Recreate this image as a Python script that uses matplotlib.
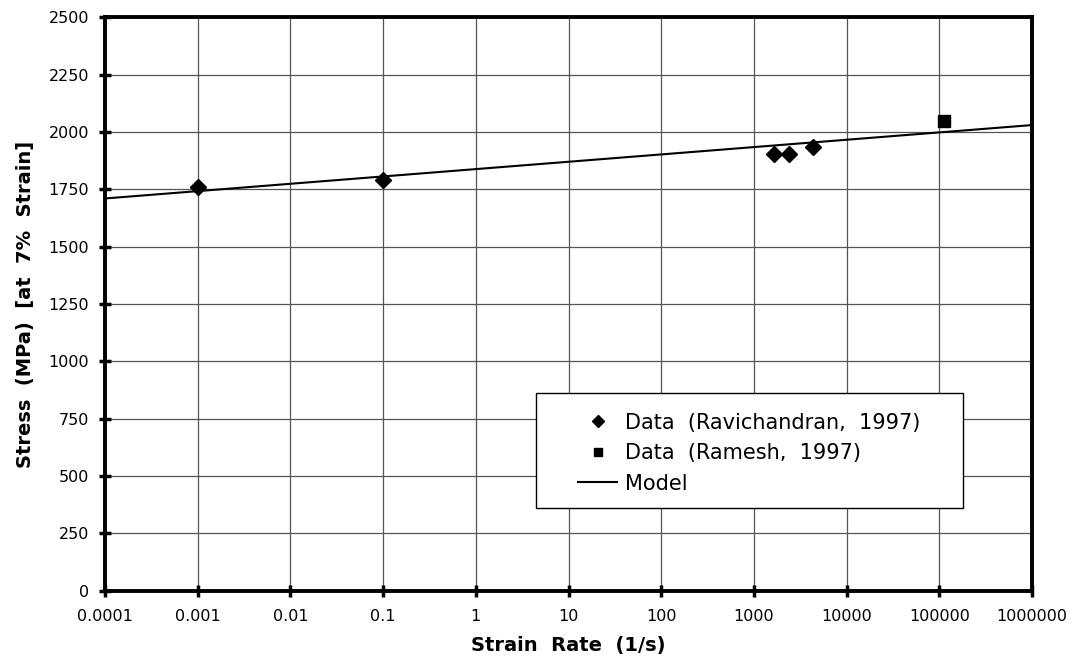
import numpy as np
import matplotlib
matplotlib.use("Agg")
import matplotlib.pyplot as plt
from matplotlib.patches import Rectangle

# data
ravi_rate = [0.001, 0.1, 1640, 2380, 4310]
ravi_stress = [1760, 1790, 1903, 1903, 1934]

ramesh_rate = [1.13e5]
ramesh_stress = [2048]

model_rate = [1e-4, 1e6]
model_stress = [1710, 2030]

x_ticks = [1e-4, 1e-3, 1e-2, 1e-1, 1, 10, 100, 1000, 1e4, 1e5, 1e6]
x_labels = ["0.0001", "0.001", "0.01", "0.1", "1", "10", "100", "1000",
            "10000", "100000", "1000000"]
y_ticks = list(range(0, 2501, 250))

plt.rcParams['font.family'] = ['DejaVu Sans']

fig = plt.figure(figsize=(10.83, 6.63), dpi=100)
ax = fig.add_axes([0.097, 0.109, 0.856, 0.865])

ax.plot(ravi_rate, ravi_stress, linestyle='none', marker='D', markersize=8,
        color='black', label='Data  (Ravichandran,  1997)')
ax.plot(ramesh_rate, ramesh_stress, linestyle='none', marker='s', markersize=8,
        color='black', label='Data  (Ramesh,  1997)')
ax.plot(model_rate, model_stress, color='black', linewidth=1.5, label='Model')

ax.set_xscale('log')
ax.set_xlim(1e-4, 1e6)
ax.set_ylim(0, 2500)
ax.set_xticks(x_ticks)
ax.set_xticklabels(x_labels)
ax.xaxis.set_minor_locator(matplotlib.ticker.NullLocator())
ax.set_yticks(y_ticks)

ax.grid(True, color='#555555', linewidth=0.9)
ax.set_axisbelow(True)
for sp in ax.spines.values():
    sp.set_linewidth(2.8)
ax.tick_params(direction='inout', length=9, width=2.5, labelsize=11.5)
ax.tick_params(axis='x', pad=9)
ax.tick_params(axis='y', pad=7)

ax.set_xlabel('Strain  Rate  (1/s)', fontsize=14, fontweight='bold', labelpad=8)
ax.set_ylabel('Stress  (MPa)  [at  7%  Strain]', fontsize=14, fontweight='bold', labelpad=10)

# legend frame drawn separately so the entries can sit off-centre like the original
frame = Rectangle((0.465, 0.145), 0.46, 0.2, transform=ax.transAxes,
                  facecolor='white', edgecolor='black', linewidth=1.0, zorder=4)
ax.add_patch(frame)
leg = ax.legend(loc='center left', bbox_to_anchor=(0.51, 0.24),
                frameon=False, fontsize=15, handlelength=1.9, handletextpad=0.35,
                labelspacing=0.5, borderaxespad=0, borderpad=0)
leg.set_zorder(5)
for h in leg.legend_handles[:2]:
    h.set_markersize(6)

fig.savefig('out.png', dpi=100)
